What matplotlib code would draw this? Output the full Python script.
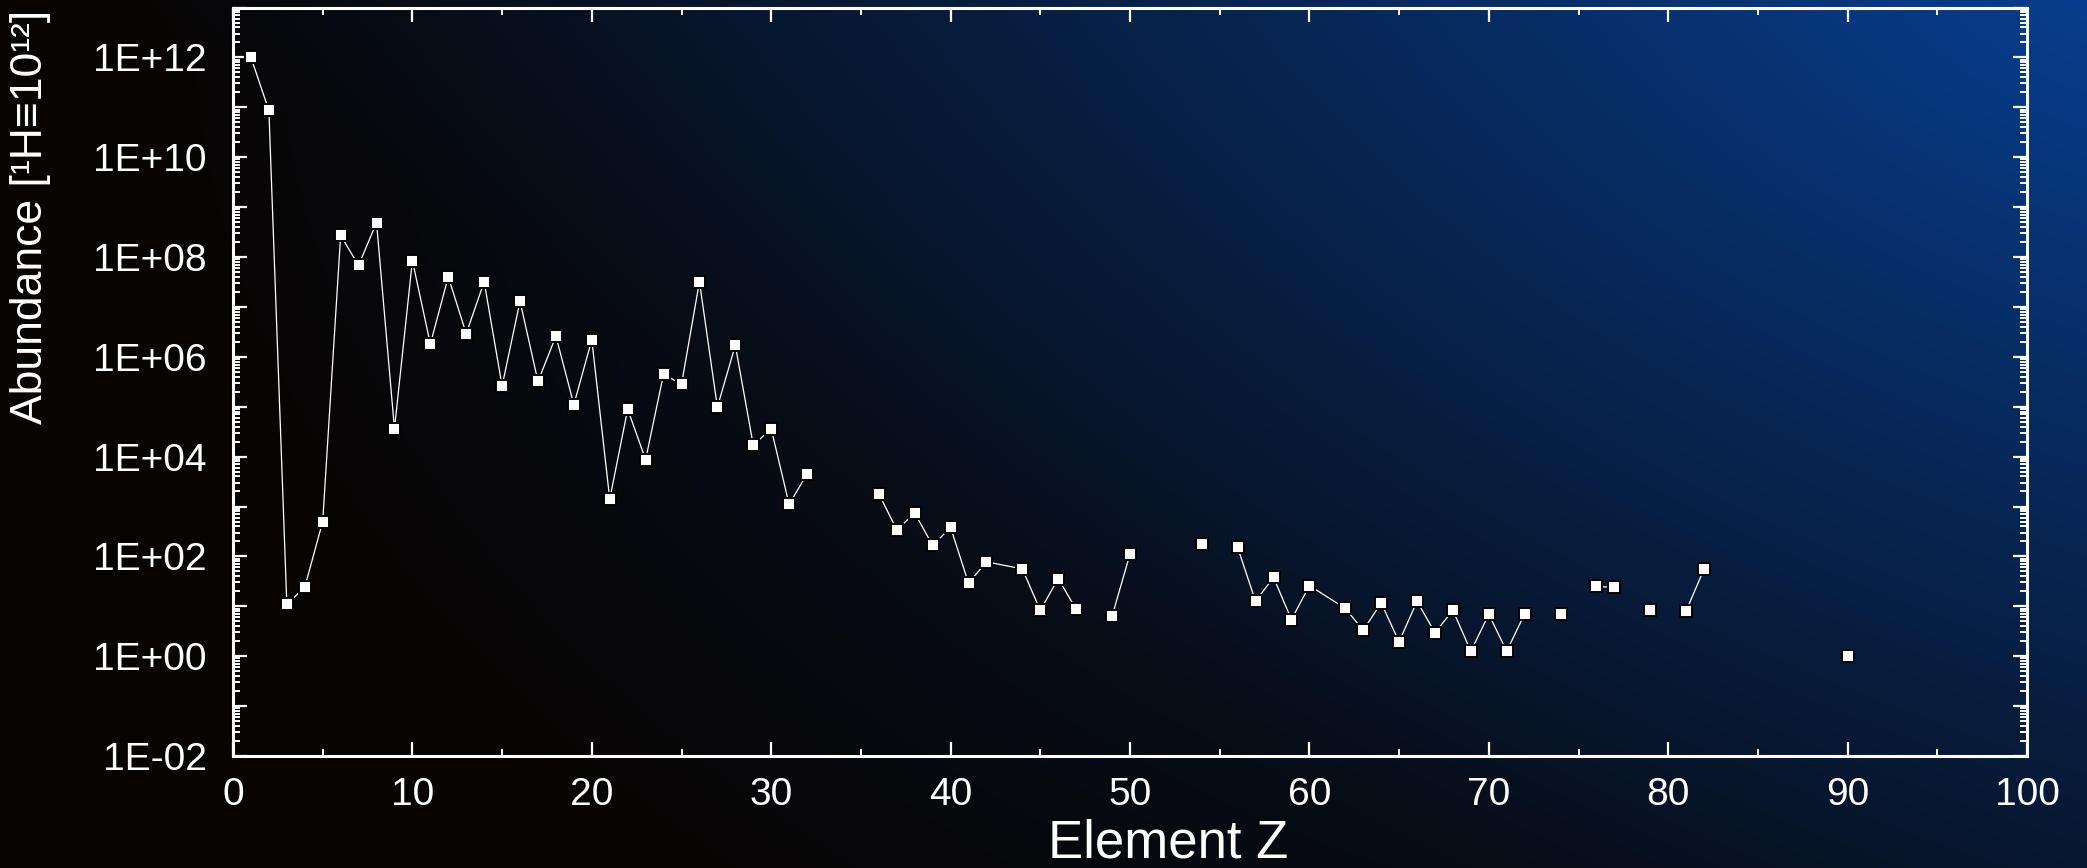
import numpy as np
import matplotlib
matplotlib.use("Agg")
import matplotlib.pyplot as plt
from matplotlib.ticker import FixedLocator, LogLocator, NullFormatter, MultipleLocator

plt.rcParams['font.family'] = ['Liberation Sans', 'DejaVu Sans']

# solar system abundances, normalised to H = 1e12
z = [1, 2, 3, 4, 5, 6, 7, 8, 9, 10, 11, 12, 13, 14, 15, 16, 17, 18, 19, 20,
     21, 22, 23, 24, 25, 26, 27, 28, 29, 30, 31, 32,
     36, 37, 38, 39, 40, 41, 42, 44, 45, 46, 47, 49, 50, 54,
     56, 57, 58, 59, 60, 62, 63, 64, 65, 66, 67, 68, 69, 70, 71, 72,
     74, 76, 77, 79, 81, 82, 90]
abund = [1.0e12, 8.7e10, 11, 24, 500, 2.7e8, 6.8e7, 4.9e8, 3.6e4, 8.5e7,
         1.8e6, 4.0e7, 2.9e6, 3.2e7, 2.6e5, 1.3e7, 3.2e5, 2.6e6, 1.1e5, 2.2e6,
         1.4e3, 8.9e4, 8.7e3, 4.5e5, 2.8e5, 3.2e7, 9.8e4, 1.7e6, 1.7e4, 3.6e4,
         1.1e3, 4.5e3,
         1.8e3, 340, 740, 166, 380, 29, 78, 56, 8.3, 36, 8.7, 6.3, 112, 174,
         151, 12.6, 38, 5.4, 26, 9.1, 3.3, 11.7, 1.95, 12.6, 2.95, 8.3, 1.26,
         6.9, 1.26, 7.1,
         7.1, 25, 24, 8.3, 8.1, 56, 1.0]

# runs of elements joined by a line (first Z, last Z)
connected_runs = [(1, 32), (36, 47), (49, 50), (56, 72), (76, 77), (81, 82)]

y_decades = list(range(-2, 14))
x_major = [0, 10, 20, 30, 40, 50, 60, 70, 80, 90, 100]

W, H = 2087, 868
fig = plt.figure(figsize=(W / 100, H / 100), dpi=100)

# background: dark, blue glow towards the top right corner
bg = fig.add_axes([0, 0, 1, 1], zorder=-10)
yy, xx = np.mgrid[0:H, 0:W]
dx = (W - xx) / 1980.0
dy = yy / 1290.0
f_lin = np.clip(1 - dx - dy, 0, 1)
f_rad = np.clip(1 - np.sqrt(dx ** 2 + dy ** 2), 0, 1)
f = 0.5 * (f_lin + f_rad)
dark = np.array([7, 4, 2]) / 255.0
blue = np.array([8, 62, 142]) / 255.0
img = dark[None, None, :] * (1 - f[..., None]) + blue[None, None, :] * f[..., None]
bg.imshow(img, aspect='auto', origin='upper', extent=[0, 1, 0, 1])
bg.axis('off')

ax = fig.add_axes([233 / W, 1 - 756 / H, (2027 - 233) / W, (756 - 7.5) / H])
ax.set_facecolor('none')

zs = np.array(z)
ab = np.array(abund, dtype=float)
for lo, hi in connected_runs:
    m = (zs >= lo) & (zs <= hi)
    ax.plot(zs[m], ab[m], color='white', lw=0.9, zorder=2)
ax.plot(zs, ab, ls='none', marker='s', ms=8.0, mfc='white',
        mec='#060402', mew=1.4, zorder=3)

ax.set_yscale('log')
ax.set_xlim(0, 100)
ax.set_ylim(1e-2, 1e13)

ax.yaxis.set_major_locator(FixedLocator([10.0 ** e for e in y_decades]))
ax.set_yticklabels([f"1E{e:+03d}" if e % 2 == 0 else "" for e in y_decades])
ax.yaxis.set_minor_locator(LogLocator(base=10, subs=np.arange(2, 10), numticks=100))
ax.yaxis.set_minor_formatter(NullFormatter())
ax.set_xticks(x_major)
ax.xaxis.set_minor_locator(MultipleLocator(5))

for s in ax.spines.values():
    s.set_color('white')
    s.set_linewidth(2.2)

ax.tick_params(which='both', direction='in', top=True, right=True,
               colors='white', labelcolor='white')
ax.tick_params(which='major', length=10, width=1.6, labelsize=28)
ax.tick_params(which='minor', length=5, width=1.4)
ax.tick_params(axis='x', which='major', pad=15)
ax.tick_params(axis='y', which='major', pad=19)

ax.set_xlabel("Element Z", fontsize=38, color='white')
ax.xaxis.set_label_coords(0.5215, -0.083)
ax.set_ylabel("Abundance [¹H≡10¹²]", fontsize=32, color='white')
ax.yaxis.set_label_coords(-0.1015, 0.72)

fig.savefig("out.png", dpi=100)
